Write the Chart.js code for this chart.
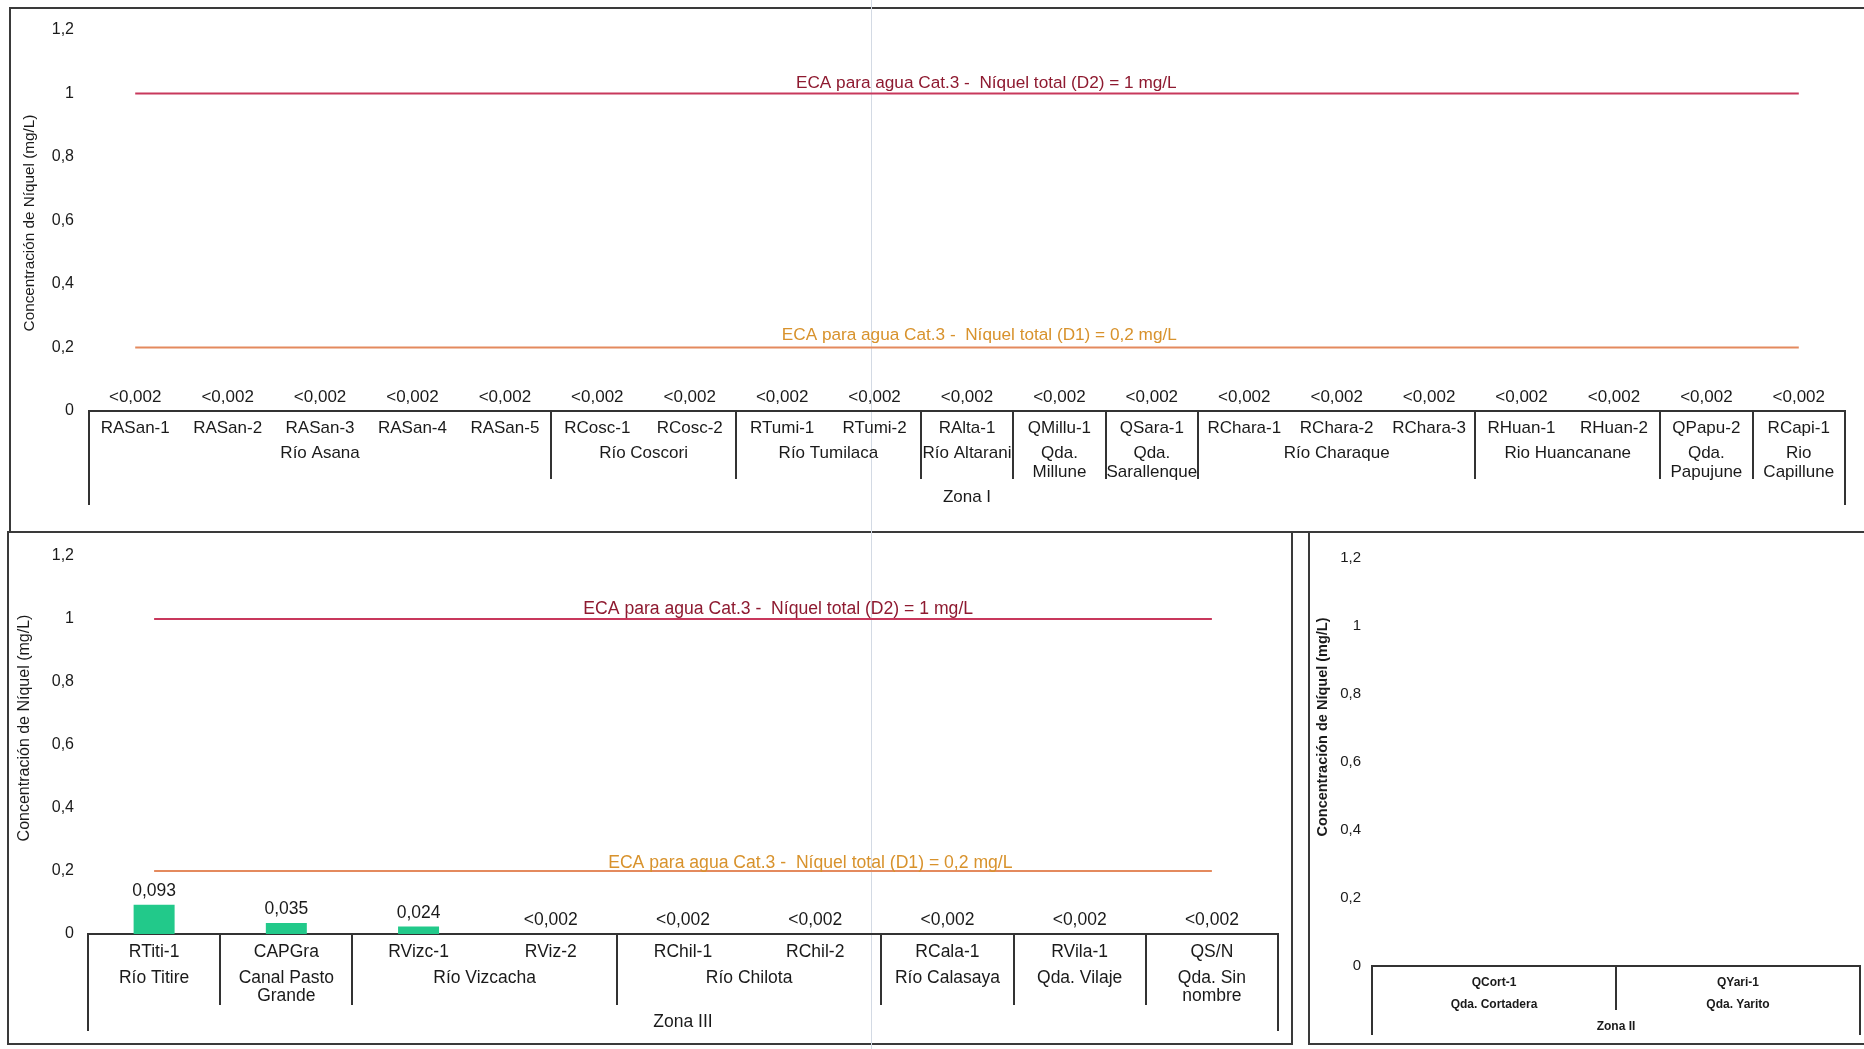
<!DOCTYPE html>
<html lang="es">

<head>
    <meta charset="UTF-8">
    <script src="https://cdn.jsdelivr.net/npm/chart.js"></script>
    <title>Concentración de Níquel</title>
    <style>
        body { margin: 0; background: #fff; width: 1864px; height: 1049px; overflow: hidden; position: relative; }
        canvas { position: absolute; }
        .marco { position: absolute; border: 2px solid #3a3a3a; box-sizing: border-box; }
        .raya { position: absolute; left: 871px; top: 0; width: 1px; height: 1049px; background: #d3dae4; }
    </style>
</head>

<body>
    <div class="marco" style="left:9px; top:7px; width:1880px; height:526px;"></div>
    <div class="marco" style="left:7px; top:531px; width:1286px; height:514px;"></div>
    <div class="marco" style="left:1308px; top:531px; width:580px; height:514px;"></div>
    <div class="raya"></div>

    <canvas id="graficoZona1" width="1864" height="532" style="left:0; top:0;"></canvas>
    <canvas id="graficoZona3" width="1300" height="517" style="left:0; top:532px;"></canvas>
    <canvas id="graficoZona2" width="564" height="517" style="left:1300px; top:532px;"></canvas>
</body>

<script>
    // límites ECA Cat.3
    const ecaD2 = 1;
    const ecaD1 = 0.2;
    const ticksY = [0, 0.2, 0.4, 0.6, 0.8, 1, 1.2];
    const tituloY = 'Concentración de Níquel (mg/L)';

    // Zona I
    const sitiosZona1 = ['RASan-1', 'RASan-2', 'RASan-3', 'RASan-4', 'RASan-5', 'RCosc-1', 'RCosc-2',
        'RTumi-1', 'RTumi-2', 'RAlta-1', 'QMillu-1', 'QSara-1', 'RChara-1', 'RChara-2', 'RChara-3',
        'RHuan-1', 'RHuan-2', 'QPapu-2', 'RCapi-1'];
    const valoresZona1 = [0, 0, 0, 0, 0, 0, 0, 0, 0, 0, 0, 0, 0, 0, 0, 0, 0, 0, 0];
    const etiquetasZona1 = ['<0,002', '<0,002', '<0,002', '<0,002', '<0,002', '<0,002', '<0,002',
        '<0,002', '<0,002', '<0,002', '<0,002', '<0,002', '<0,002', '<0,002', '<0,002',
        '<0,002', '<0,002', '<0,002', '<0,002'];
    const gruposZona1 = ['Río Asana', 'Río Coscori', 'Río Tumilaca', 'Río Altarani', 'Qda.\nMillune',
        'Qda.\nSarallenque', 'Río Charaque', 'Rio Huancanane', 'Qda.\nPapujune', 'Rio\nCapillune'];
    const tamGruposZona1 = [5, 2, 2, 1, 1, 1, 3, 2, 1, 1];

    // Zona III
    const sitiosZona3 = ['RTiti-1', 'CAPGra', 'RVizc-1', 'RViz-2', 'RChil-1', 'RChil-2', 'RCala-1', 'RVila-1', 'QS/N'];
    const valoresZona3 = [0.093, 0.035, 0.024, 0, 0, 0, 0, 0, 0];
    const etiquetasZona3 = ['0,093', '0,035', '0,024', '<0,002', '<0,002', '<0,002', '<0,002', '<0,002', '<0,002'];
    const gruposZona3 = ['Río Titire', 'Canal Pasto\nGrande', 'Río Vizcacha', 'Río Chilota', 'Río Calasaya',
        'Qda. Vilaje', 'Qda. Sin\nnombre'];
    const tamGruposZona3 = [1, 1, 2, 2, 1, 1, 1];

    // Zona II
    const sitiosZona2 = ['QCort-1', 'QYari-1'];
    const valoresZona2 = [null, null];
    const gruposZona2 = ['Qda. Cortadera', 'Qda. Yarito'];
    const tamGruposZona2 = [1, 1];

    const FUENTE = "'Liberation Sans', Arial, sans-serif";
    const COLOR_TEXTO = '#1a1a1a';
    Chart.defaults.font.family = FUENTE;
    Chart.defaults.color = COLOR_TEXTO;

    // título Y, etiquetas de sitios, grupos, zona y valores
    const pluginEtiquetas = {
        id: 'etiquetas',
        afterDraw(chart, args, o) {
            const ctx = chart.ctx;
            const area = chart.chartArea;
            const x = chart.scales.x;
            const y = chart.scales.y;
            const n = o.sitios.length;
            const ancho = (area.right - area.left) / n;

            ctx.save();
            ctx.textAlign = 'center';
            ctx.textBaseline = 'middle';

            // título del eje Y
            ctx.save();
            ctx.fillStyle = COLOR_TEXTO;
            ctx.font = o.fuenteTitulo;
            ctx.translate(o.xTitulo, o.yTitulo);
            ctx.rotate(-Math.PI / 2);
            ctx.fillText(tituloY, 0, 0);
            ctx.restore();

            // líneas ECA
            (o.ecas || []).forEach(function (e) {
                ctx.font = o.fuenteEca;
                ctx.fillStyle = e.color;
                ctx.fillText(e.texto, area.left + e.fx * (area.right - area.left), y.getPixelForValue(e.valor) - e.dy);
            });

            ctx.fillStyle = COLOR_TEXTO;
            ctx.font = o.fuente;
            o.sitios.forEach(function (s, i) {
                ctx.fillText(s, x.getPixelForValue(i), area.bottom + o.yCat);
            });

            if (o.etiquetas) {
                o.etiquetas.forEach(function (t, i) {
                    ctx.fillText(t, x.getPixelForValue(i), y.getPixelForValue(o.valores[i] || 0) - o.yValor);
                });
            }

            ctx.strokeStyle = '#333';
            ctx.lineWidth = 2;
            let ini = 0;
            o.grupos.forEach(function (g, k) {
                const fin = ini + o.tamGrupos[k];
                const xa = x.getPixelForValue(ini) - ancho / 2;
                const xb = x.getPixelForValue(fin - 1) + ancho / 2;
                g.split('\n').forEach(function (linea, j) {
                    ctx.fillText(linea, (xa + xb) / 2, area.bottom + o.yGrupo + j * o.altoLinea);
                });
                if (fin < n) {
                    ctx.beginPath();
                    ctx.moveTo(Math.round(xb), area.bottom);
                    ctx.lineTo(Math.round(xb), area.bottom + o.altoSep);
                    ctx.stroke();
                }
                ini = fin;
            });

            ctx.beginPath();
            ctx.moveTo(area.left, area.bottom);
            ctx.lineTo(area.left, area.bottom + o.altoBorde);
            ctx.moveTo(area.right, area.bottom);
            ctx.lineTo(area.right, area.bottom + o.altoBorde);
            ctx.stroke();

            ctx.fillText(o.zona, (area.left + area.right) / 2, area.bottom + o.yZona);
            ctx.restore();
        }
    };

    function formatoY(v) {
        return String(Math.round(v * 10) / 10).replace('.', ',');
    }

    function crearGrafico(id, sitios, valores, lineas, ejes, etiquetas) {
        const datasets = [{
            type: 'bar',
            data: valores,
            backgroundColor: '#22c98a',
            barPercentage: 0.62,
            categoryPercentage: 0.5,
            order: 2
        }];
        lineas.forEach(function (l) {
            datasets.push({
                type: 'line',
                data: sitios.map(function () { return l.valor; }),
                borderColor: l.color,
                borderWidth: 2,
                pointRadius: 0,
                order: 1
            });
        });

        return new Chart(document.getElementById(id), {
            type: 'bar',
            data: { labels: sitios, datasets: datasets },
            options: {
                responsive: false,
                animation: false,
                layout: { padding: ejes.padding },
                plugins: { legend: { display: false }, tooltip: { enabled: false }, etiquetas: etiquetas },
                scales: {
                    x: {
                        grid: { display: false, drawTicks: false },
                        border: { display: true, color: '#333', width: 2 },
                        ticks: { display: false },
                        afterFit: function (s) { s.height = ejes.altoX; }
                    },
                    y: {
                        min: 0,
                        max: 1.2,
                        afterBuildTicks: function (s) { s.ticks = ticksY.map(function (v) { return { value: v }; }); },
                        grid: { display: false, drawTicks: false },
                        border: { display: false },
                        ticks: { padding: ejes.padTick, font: { size: ejes.tamTick }, color: COLOR_TEXTO, callback: formatoY },
                        afterFit: function (s) { s.width = ejes.anchoY; }
                    }
                }
            },
            plugins: [pluginEtiquetas]
        });
    }

    // GRAFICO Zona I
    const graficoZona1 = crearGrafico('graficoZona1', sitiosZona1, valoresZona1,
        [{ valor: ecaD2, color: '#c8385c' }, { valor: ecaD1, color: '#e48a5e' }],
        { padding: { top: 30, right: 19, left: 0, bottom: 0 }, altoX: 121, anchoY: 89, padTick: 15, tamTick: 16 },
        {
            sitios: sitiosZona1, valores: valoresZona1, etiquetas: etiquetasZona1,
            grupos: gruposZona1, tamGrupos: tamGruposZona1, zona: 'Zona I',
            fuente: '17px ' + FUENTE, fuenteEca: '17.2px ' + FUENTE, yCat: 17, yValor: 14, yGrupo: 42, altoLinea: 19,
            altoSep: 68, altoBorde: 94, yZona: 86,
            fuenteTitulo: '15.3px ' + FUENTE, xTitulo: 30, yTitulo: 223,
            ecas: [
                { texto: 'ECA para agua Cat.3 -  Níquel total (D2) = 1 mg/L', valor: ecaD2, color: '#8e1a30', fx: 0.511, dy: 10 },
                { texto: 'ECA para agua Cat.3 -  Níquel total (D1) = 0,2 mg/L', valor: ecaD1, color: '#d8922c', fx: 0.507, dy: 12 }
            ]
        });

    // GRAFICO Zona III
    const graficoZona3 = crearGrafico('graficoZona3', sitiosZona3, valoresZona3,
        [{ valor: ecaD2, color: '#c8385c' }, { valor: ecaD1, color: '#e48a5e' }],
        { padding: { top: 24, right: 22, left: 0, bottom: 0 }, altoX: 115, anchoY: 88, padTick: 14, tamTick: 16 },
        {
            sitios: sitiosZona3, valores: valoresZona3, etiquetas: etiquetasZona3,
            grupos: gruposZona3, tamGrupos: tamGruposZona3, zona: 'Zona III',
            fuente: '17.5px ' + FUENTE, fuenteEca: '17.6px ' + FUENTE, yCat: 18.5, yValor: 13.5, yGrupo: 44.5, altoLinea: 18,
            altoSep: 71, altoBorde: 97, yZona: 88.5,
            fuenteTitulo: '16px ' + FUENTE, xTitulo: 25, yTitulo: 196,
            ecas: [
                { texto: 'ECA para agua Cat.3 -  Níquel total (D2) = 1 mg/L', valor: ecaD2, color: '#8e1a30', fx: 0.58, dy: 10 },
                { texto: 'ECA para agua Cat.3 -  Níquel total (D1) = 0,2 mg/L', valor: ecaD1, color: '#d8922c', fx: 0.607, dy: 8 }
            ]
        });

    // GRAFICO Zona II
    const graficoZona2 = crearGrafico('graficoZona2', sitiosZona2, valoresZona2, [],
        { padding: { top: 26, right: 4, left: 0, bottom: 0 }, altoX: 83, anchoY: 72, padTick: 11, tamTick: 15 },
        {
            sitios: sitiosZona2, valores: valoresZona2,
            grupos: gruposZona2, tamGrupos: tamGruposZona2, zona: 'Zona II',
            fuente: 'bold 12px ' + FUENTE, yCat: 16.5, yValor: 14, yGrupo: 38.5, altoLinea: 15,
            altoSep: 44, altoBorde: 69, yZona: 61,
            fuenteTitulo: 'bold 14.5px ' + FUENTE, xTitulo: 23, yTitulo: 195
        });
</script>

</html>
